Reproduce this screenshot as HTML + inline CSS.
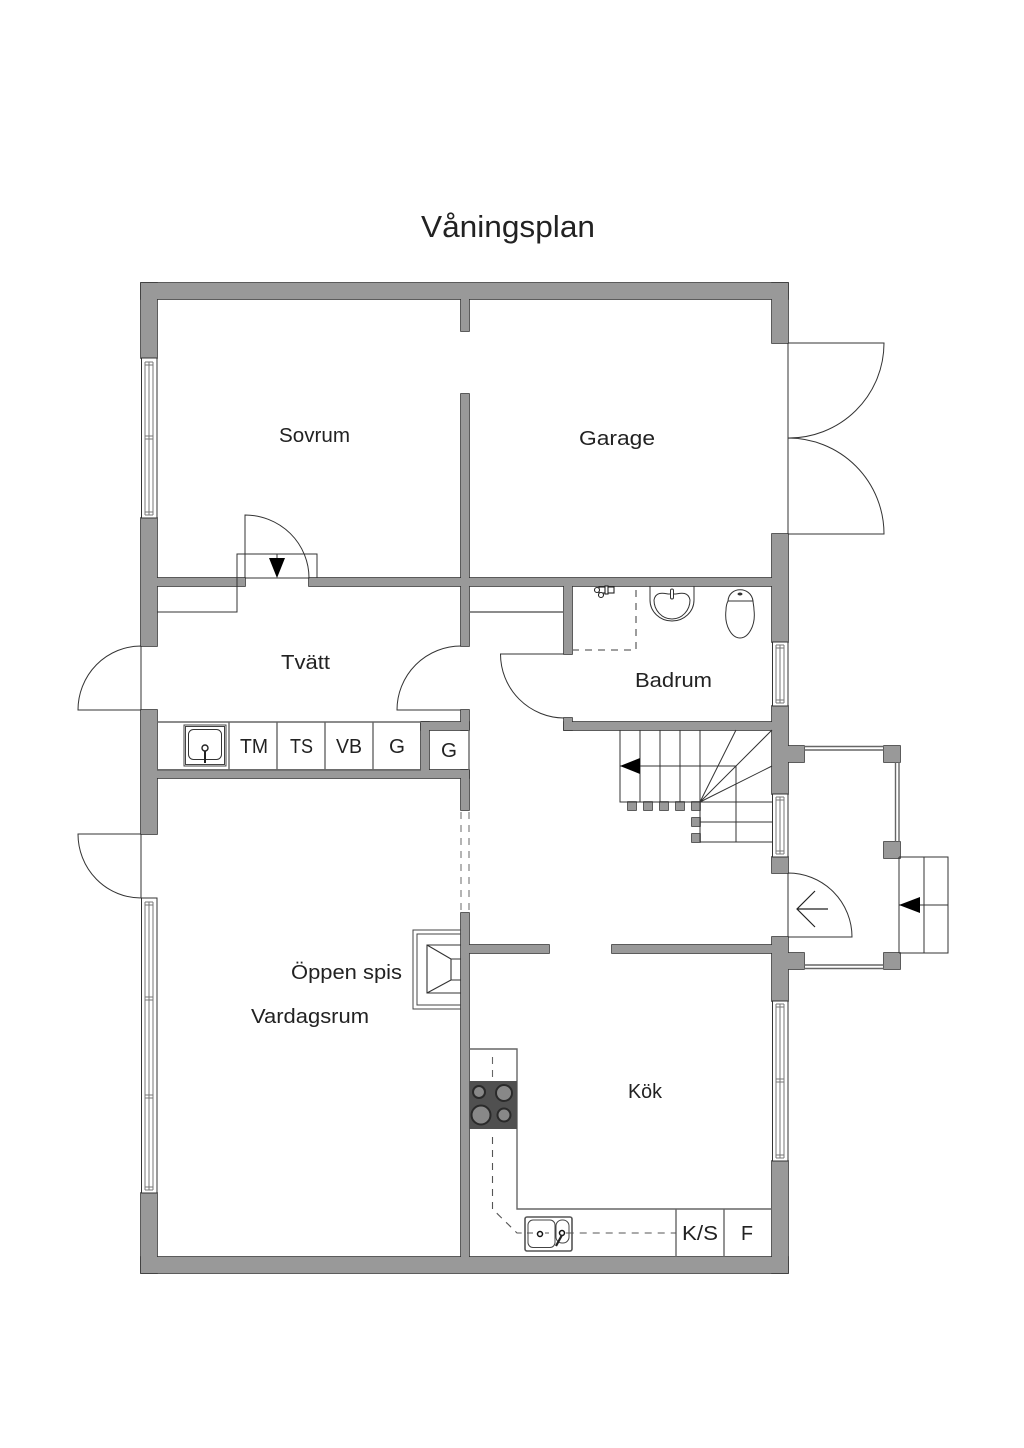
<!DOCTYPE html>
<html lang="sv">
<head>
<meta charset="utf-8">
<title>Våningsplan</title>
<style>
html,body{margin:0;padding:0;background:#fff}
svg{display:block}
text{font-family:"Liberation Sans",sans-serif;fill:#222}
.l{fill:none;stroke:#333;stroke-width:1}
.m{fill:none;stroke:#666;stroke-width:1.4}
.d{fill:none;stroke:#555;stroke-width:1.1;stroke-dasharray:7 6}
.w{fill:#fff;stroke:#333;stroke-width:1}
.g{fill:none;stroke:#777;stroke-width:1}
</style>
</head>
<body>
<svg xmlns="http://www.w3.org/2000/svg" width="1024" height="1448" viewBox="0 0 1024 1448">
<defs>
<g id="walls">
<rect x="141" y="283" width="647" height="16"/>
<rect x="141" y="1257" width="647" height="16"/>
<rect x="141" y="283" width="16" height="75"/>
<rect x="141" y="518" width="16" height="128"/>
<rect x="141" y="710" width="16" height="124"/>
<rect x="141" y="1193" width="16" height="80"/>
<rect x="772" y="283" width="16" height="60"/>
<rect x="772" y="534" width="16" height="108"/>
<rect x="772" y="706" width="16" height="88"/>
<rect x="772" y="857" width="16" height="16"/>
<rect x="772" y="937" width="16" height="64"/>
<rect x="772" y="1161" width="16" height="112"/>
<rect x="461" y="299" width="8" height="32"/>
<rect x="461" y="394" width="8" height="252"/>
<rect x="461" y="710" width="8" height="20"/>
<rect x="461" y="770" width="8" height="40"/>
<rect x="461" y="913" width="8" height="344"/>
<rect x="157" y="578" width="88" height="8"/>
<rect x="309" y="578" width="463" height="8"/>
<rect x="421" y="722" width="48" height="8"/>
<rect x="421" y="722" width="8" height="48"/>
<rect x="157" y="770" width="312" height="8"/>
<rect x="469" y="945" width="80" height="8"/>
<rect x="612" y="945" width="160" height="8"/>
<rect x="564" y="586" width="8" height="68"/>
<rect x="564" y="722" width="208" height="8"/>
<rect x="564" y="718" width="8" height="12"/>
<rect x="788" y="746" width="16" height="16"/>
<rect x="884" y="746" width="16" height="16"/>
<rect x="884" y="842" width="16" height="16"/>
<rect x="788" y="953" width="16" height="16"/>
<rect x="884" y="953" width="16" height="16"/>
<rect x="628" y="802" width="8" height="8"/>
<rect x="644" y="802" width="8" height="8"/>
<rect x="660" y="802" width="8" height="8"/>
<rect x="676" y="802" width="8" height="8"/>
<rect x="692" y="802" width="8" height="8"/>
<rect x="692" y="818" width="8" height="8"/>
<rect x="692" y="834" width="8" height="8"/>
</g>
</defs>
<rect width="1024" height="1448" fill="#fff"/>

<!-- Walls -->
<use href="#walls" fill="#333" stroke="#333" stroke-width="1.6"/>
<use href="#walls" fill="#999"/>

<!-- Windows, left -->
<rect class="w" x="141.5" y="358" width="15.5" height="160"/>
<path class="g" d="M145 362V515M149 362V515M153 362V515M145 362H153M145 365H153M145 436H153M145 439H153M145 512H153M145 515H153"/>
<rect class="w" x="141.5" y="898" width="15.5" height="295"/>
<path class="g" d="M145 902V1190M149 902V1190M153 902V1190M145 902H153M145 905H153M145 997H153M145 1000H153M145 1095H153M145 1098H153M145 1187H153M145 1190H153"/>
<!-- Windows, right -->
<rect class="w" x="772.5" y="642" width="15.5" height="64"/>
<path class="g" d="M776 645V703M780 645V703M784 645V703M776 645H784M776 648H784M776 700H784M776 703H784"/>
<rect class="w" x="772.5" y="794" width="15.5" height="63"/>
<path class="g" d="M776 797V854M780 797V854M784 797V854M776 797H784M776 800H784M776 851H784M776 854H784"/>
<rect class="w" x="772.5" y="1001" width="15.5" height="160"/>
<path class="g" d="M776 1004V1158M780 1004V1158M784 1004V1158M776 1004H784M776 1007H784M776 1079H784M776 1082H784M776 1155H784M776 1158H784"/>

<!-- Porch windows and steps -->
<path class="m" d="M804 746.5H884M804 750H884M804 965H884M804 968.5H884M895.500 762V842M899 762V842"/>
<path class="l" d="M899 857V953M899 857H948V953H899M924 857V953M899 905H948"/>
<polygon points="899,905 920,897 920,913" fill="#000"/>

<!-- Doors -->
<path class="l" d="M788 343V534M788 343H884A95 95 0 0 1 788 438A96 96 0 0 1 884 534H788"/>
<path class="l" d="M245 578V515A64 63 0 0 1 309 578H245"/>
<path class="l" d="M157 612H237V554H317V578M277 554V560"/>
<path class="l" d="M141 646V710M141 646A63 64 0 0 0 78 710H141"/>
<path class="l" d="M461 646A64 64 0 0 0 397 710H461"/>
<path class="l" d="M141 834V898M141 834H78A63 64 0 0 0 141 898"/>
<path class="l" d="M564 654H500.5A64 64 0 0 0 564 718"/>
<path class="l" d="M788 873V937M788 873A64 64 0 0 1 852 937H788"/>
<polygon points="269,558 285,558 277,578" fill="#000"/>
<path d="M828 909H797M815 891L797 909L815 927" fill="none" stroke="#222" stroke-width="1.2"/>

<!-- Laundry counter -->
<path class="m" d="M157 722H421M229 722V770M277 722V770M325 722V770M373 722V770M157 770H421"/>
<path class="m" d="M469 612H564M469 730V770"/>
<path class="d" d="M461 812V913M469 812V913" style="stroke:#777"/>
<!-- Utility sink -->
<rect x="184" y="725" width="42" height="41" fill="#fff" stroke="#444" stroke-width="1"/>
<rect x="185.5" y="726.5" width="39" height="38" fill="none" stroke="#444" stroke-width="1"/>
<rect x="188.500" y="729.5" width="33" height="30" rx="5" fill="none" stroke="#333" stroke-width="1"/>
<circle cx="205" cy="748" r="3" fill="#fff" stroke="#222" stroke-width="1.4"/>
<path d="M205 751V763" stroke="#222" stroke-width="2"/>

<!-- Bathroom -->
<path d="M636 590V651M572 650H636" fill="none" stroke="#666" stroke-width="1.3" stroke-dasharray="7 6"/>
<path d="M650 586V600A22 21 0 0 0 694 600V586" fill="none" stroke="#333"/>
<path d="M654 600A18 19 0 0 0 690 600C688 590 678 594 675 594H669C666 594 656 590 654 600Z" fill="none" stroke="#333"/>
<rect x="670.5" y="589" width="3" height="10" rx="1.5" fill="#fff" stroke="#333"/>
<path d="M728 601C729 586 751 586 753 601Z" fill="#fff" stroke="#333"/>
<path d="M726 610C724 626 732 638 740 638C748 638 756 626 754 610C754 606 753 603 753 601H728C727 603 726 606 726 610Z" fill="none" stroke="#333"/>
<ellipse cx="740" cy="594" rx="2.5" ry="1.5" fill="#333"/>
<g fill="#fff" stroke="#222" stroke-width="1.1">
<rect x="599" y="587" width="15" height="6"/>
<circle cx="597" cy="590" r="2.5"/>
<circle cx="601" cy="595" r="2.5"/>
<rect x="605" y="586" width="3" height="8"/>
</g>

<!-- Stairs -->
<path class="l" d="M620 730V802H772M640 730V802M660 730V802M680 730V802M700 730V842M620 766H736V842M700 822H772M700 842H772M700 802L736 730M700 802L772 730M700 802L772 766"/>
<polygon points="620,766 640,758 640,774" fill="#000"/>

<!-- Fireplace -->
<path d="M461 930H413V1009H461M461 934H417V1005H461" fill="none" stroke="#444"/>
<path class="l" d="M461 945H427V993H461M427 945L451 959M427 993L451 980M451 959V980M451 959H461M451 980H461" style="stroke-width:1.1"/>

<!-- Kitchen -->
<path class="m" d="M469 1049H517V1209H772M676 1209V1257M724 1209V1257"/>
<rect x="469" y="1081" width="48" height="48" fill="#505050"/>
<g stroke="#2a2a2a" stroke-width="2">
<circle cx="479" cy="1092" r="6" fill="#888"/>
<circle cx="504" cy="1093" r="8" fill="#888"/>
<circle cx="481" cy="1115" r="9.5" fill="#888"/>
<circle cx="504" cy="1115" r="6.5" fill="#888"/>
</g>
<path d="M492.5 1057V1081" fill="none" stroke="#666" stroke-width="1.1" stroke-dasharray="7 6"/>
<path class="d" d="M492.5 1137V1209L517 1233H676"/>
<rect x="525" y="1217" width="47" height="34" rx="2" fill="#fff" stroke="#555" stroke-width="1.6"/>
<rect x="528" y="1220" width="27" height="27.5" rx="5" fill="#fff" stroke="#444"/>
<rect x="556" y="1220" width="13" height="23" rx="6" fill="#fff" stroke="#444"/>
<path d="M527 1233H533M545 1233H549M566 1233H572" stroke="#555" stroke-width="1.1"/>
<circle cx="540" cy="1234" r="2.5" fill="#fff" stroke="#111" stroke-width="1.5"/>
<circle cx="562" cy="1233" r="2.5" fill="#fff" stroke="#111" stroke-width="1.5"/>
<path d="M562 1235L556 1246" stroke="#222" stroke-width="2.2"/>

<!-- Labels -->
<text x="421" y="237" font-size="31" textLength="174" lengthAdjust="spacingAndGlyphs">Våningsplan</text>
<text x="279" y="442" font-size="20" textLength="71" lengthAdjust="spacingAndGlyphs">Sovrum</text>
<text x="579" y="445" font-size="20" textLength="76" lengthAdjust="spacingAndGlyphs">Garage</text>
<text x="281" y="669" font-size="20" textLength="49" lengthAdjust="spacingAndGlyphs">Tvätt</text>
<text x="635" y="687" font-size="20" textLength="77" lengthAdjust="spacingAndGlyphs">Badrum</text>
<text x="291" y="979" font-size="20" textLength="111" lengthAdjust="spacingAndGlyphs">Öppen spis</text>
<text x="251" y="1023" font-size="20" textLength="118" lengthAdjust="spacingAndGlyphs">Vardagsrum</text>
<text x="628" y="1098" font-size="20" textLength="34" lengthAdjust="spacingAndGlyphs">Kök</text>
<text x="240" y="753" font-size="20" textLength="28" lengthAdjust="spacingAndGlyphs">TM</text>
<text x="290" y="753" font-size="20" textLength="23" lengthAdjust="spacingAndGlyphs">TS</text>
<text x="336" y="753" font-size="20" textLength="26" lengthAdjust="spacingAndGlyphs">VB</text>
<text x="389" y="753" font-size="20" textLength="16" lengthAdjust="spacingAndGlyphs">G</text>
<text x="441" y="757" font-size="20" textLength="16" lengthAdjust="spacingAndGlyphs">G</text>
<text x="682" y="1240" font-size="20" textLength="36" lengthAdjust="spacingAndGlyphs">K/S</text>
<text x="741" y="1240" font-size="20" textLength="12" lengthAdjust="spacingAndGlyphs">F</text>
</svg>
</body>
</html>
